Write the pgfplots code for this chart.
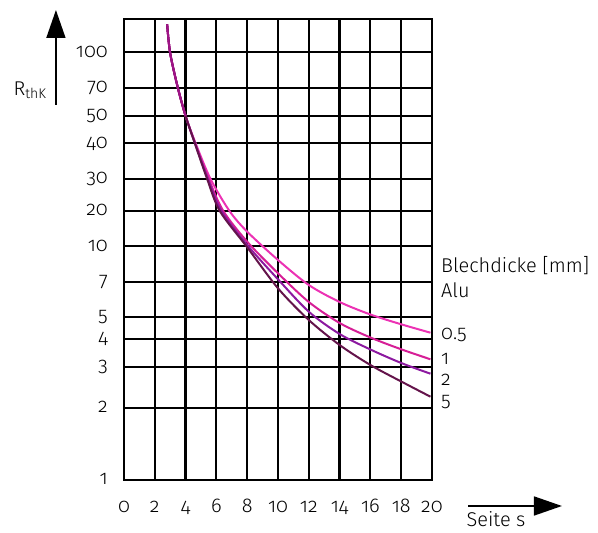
\documentclass[border=0pt]{standalone}
\usepackage{fontspec}
\setmainfont{Fira Sans}[UprightFont=* Light, Numbers=OldStyle]
\usepackage{pgfplots}
\pgfplotsset{compat=1.18}
\usetikzlibrary{arrows.meta}
\definecolor{cA}{RGB}{236,50,180}
\definecolor{cB}{RGB}{214,30,150}
\definecolor{cC}{RGB}{140,25,160}
\definecolor{cD}{RGB}{100,20,75}
\definecolor{cT}{RGB}{160,20,135}

\begin{document}
\begin{tikzpicture}[font=\fontsize{20}{24}\selectfont]
\begin{axis}[
  scale only axis, width=308bp, height=461bp,
  xmin=0, xmax=20, ymin=0, ymax=461,
  xtick={0,2,...,20},
  xticklabels={0,2,4,6,8,10,12,14,16,18,20},
  % y is a drawn scale, not a true log axis: ticks sit where the grid lines are
  ytick={0,72.3,113.3,141,163.3,198.3,233.7,269,301,336.7,364.3,392,427.7},
  yticklabels={1,2,3,4,5,7,10,20,30,40,50,70,100},
  major tick length=0pt,
  grid=major, grid style={black, line width=2.2bp},
  axis line style={line width=2.2bp},
  xticklabel style={anchor=base, inner sep=0pt, yshift=-33bp},
  yticklabel style={anchor=base east, inner sep=0pt, xshift=-16bp, yshift=-5bp},
  clip=false,
]
\path (axis cs:-8.052,480) rectangle (axis cs:30.78,-53);

\addplot[cA, line width=2bp, smooth] coordinates {
  (2.8,455.7)(3,426.7)(3.5,392)(4,364)(4.65,336.7)(5.62,301)
  (6.85,269)(8,248.3)(10,220)(12,195)(14,178)(16,165.5)(18,155.7)(19.9,147.3)
};
\addplot[cB, line width=2bp, smooth] coordinates {
  (2.8,455.7)(3,426.7)(3.5,392)(4,364)(4.62,336.7)(5.5,301)
  (6.45,269)(8,238.3)(10,206.7)(12,178)(14,157)(16,142.5)(18,130.7)(19.9,120.7)
};
\addplot[cC, line width=2bp, smooth] coordinates {
  (2.8,455.7)(3,426.7)(3.5,392)(4,364)(4.61,336.7)(5.45,301)
  (6.33,269)(8,235)(10,200.7)(12,168.3)(14,146)(16,130.5)(18,117)(19.9,106.3)
};
\addplot[cD, line width=2bp, smooth] coordinates {
  (2.8,455.7)(3,426.7)(3.5,392)(4,364)(4.6,336.7)(5.4,301)
  (6.22,269)(8,232.7)(10,191.7)(12,160)(14,135)(16,115)(18,98.5)(19.9,83.3)
};
\addplot[cT, line width=2bp, smooth] coordinates {
  (2.8,455.7)(3,426.7)(3.5,392)(4,364)
};

\node[anchor=base west, inner sep=0pt] at (axis cs:20.58,207) {Blechdicke [mm]};
\node[anchor=base west, inner sep=0pt] at (axis cs:20.58,182) {Alu};
\node[anchor=base west, inner sep=0pt] at (axis cs:20.58,140) {0.5};
\node[anchor=base west, inner sep=0pt] at (axis cs:20.58,115) {1};
\node[anchor=base west, inner sep=0pt] at (axis cs:20.58,94) {2};
\node[anchor=base west, inner sep=0pt] at (axis cs:20.58,73) {5};

\draw[line width=1.6bp, -{Triangle[length=28bp,width=19bp]}]
  (axis cs:-4.42,375) -- (axis cs:-4.42,470);
\node at (axis cs:-6.1,390) {R\textsubscript{thK}};
\draw[line width=1.6bp, -{Triangle[length=28bp,width=19bp]}]
  (axis cs:22.34,-26) -- (axis cs:28.44,-26);
\node[anchor=base] at (axis cs:24.16,-46.5) {Seite s};
\end{axis}
\end{tikzpicture}
\end{document}
